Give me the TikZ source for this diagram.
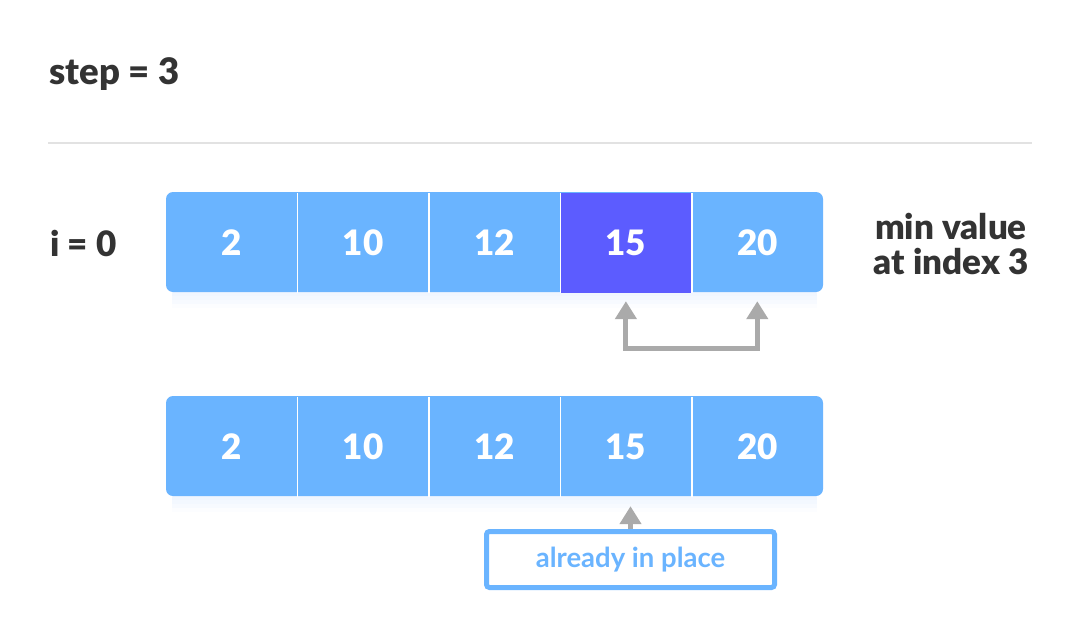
\documentclass[tikz,border=0pt]{standalone}
\usepackage{fontspec}
\setmainfont{Lato}
\newfontfamily\heavy{Lato Black}
\usetikzlibrary{arrows.meta,calc}
\definecolor{cellblue}{HTML}{6AB4FF}
\definecolor{cellpurple}{HTML}{5C5CFF}
\definecolor{txt}{HTML}{333333}
\definecolor{garr}{HTML}{AAAAAA}
\definecolor{sep}{HTML}{E2E2E2}
\definecolor{shad}{HTML}{E6F0FF}
\tikzset{
  x=1pt,y=-1pt,
  cell/.style={minimum width=131.4pt,minimum height=100pt,inner sep=0pt,text=white,font=\fontsize{35}{38}\heavy},
  label/.style={text=txt,font=\fontsize{35}{38}\heavy,inner sep=0pt},
  divider/.style={white,line width=1.6pt},
  garrow/.style={garr,line width=5pt,-{Triangle[length=18pt,width=21pt]}},
  infobox/.style={draw=cellblue,line width=5pt,rounded corners=3pt,minimum width=288pt,minimum height=56pt,text=cellblue,font=\fontsize{27.5}{30}\selectfont\bfseries,inner sep=0pt},
}
\begin{document}
\begin{tikzpicture}
\useasboundingbox (0,0) rectangle (1080,640);
\fill[white] (0,0) rectangle (1080,640);
% title
\node[label,anchor=west,font=\fontsize{36.5}{40}\heavy] (title) at (49,74) {step = 3};
\draw[sep,line width=2pt] (48,143) -- (1032,143);
% shadows
\foreach \y/\o in {292/0.5,296/0.4,300/0.3,304/0.2,308/0.1}{
  \fill[shad,opacity=\o] (172,\y-8) rectangle (817,\y);
  \fill[shad,opacity=\o] (172,\y+196) rectangle (817,\y+204);
}
% top array
\fill[cellblue,rounded corners=7pt] (166,192) rectangle (823,292);
\foreach \i/\v in {1/2,2/10,3/12,4/15,5/20}{
  \node[cell] (t\i) at (166+131.4*\i-65.7,243) {\v};
}
\fill[cellpurple] (t4.north west) rectangle (t4.south east);
\node[cell] at (t4) {15};
\foreach \i in {1,2,3,4}{ \draw[divider] (t\i.north east) -- (t\i.south east); }
% bottom array
\fill[cellblue,rounded corners=7pt] (166,396) rectangle (823,496);
\foreach \i/\v in {1/2,2/10,3/12,4/15,5/20}{
  \node[cell] (b\i) at (166+131.4*\i-65.7,447) {\v};
}
\foreach \i in {1,2,3,4}{ \draw[divider] (b\i.north east) -- (b\i.south east); }
% labels
\node[label,anchor=west] (iz) at (50,243) {i = 0};
\node[label,align=center,font=\fontsize{35}{35}\heavy] (minv) at (951,244) {min value\\at index 3};
% swap arrow
\coordinate (s4) at ($(t4.south)+(0,8)$);
\coordinate (s5) at ($(t5.south)+(0,8)$);
\draw[garrow,{Triangle[length=18pt,width=21pt]}-{Triangle[length=18pt,width=21pt]}] (s4) -- ($(t4.south)+(0,55)$) -- ($(t5.south)+(0,55)$) -- (s5);
% info box
\node[infobox] (box) at (630.5,559.5) {already in place};
\coordinate (tipB) at ($(b4.south)+(0,9)$);
\draw[garrow] (box.north) -- (box.north |- tipB);
\end{tikzpicture}
\end{document}
